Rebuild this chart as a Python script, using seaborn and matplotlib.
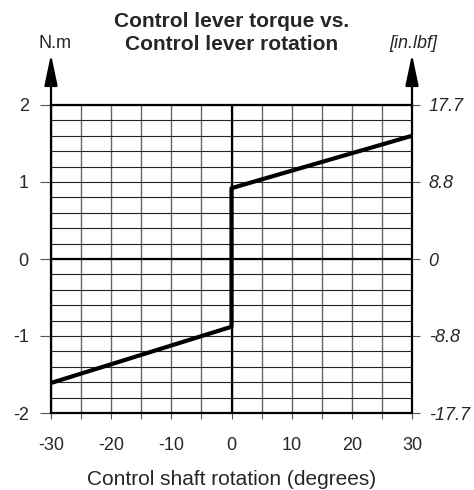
import matplotlib
matplotlib.use('Agg')
import numpy as np
import pandas as pd
import seaborn as sns
from matplotlib import pyplot as plt

# shaft rotation (degrees) and lever torque (N.m)
rotation = [-30, 0, 0, 30]
torque = [-1.61, -0.88, 0.92, 1.6]
x_ticks = [-30, -20, -10, 0, 10, 20, 30]
y_ticks = [-2, -1, 0, 1, 2]
right_labels = ['-17.7', '-8.8', '0', '8.8', '17.7']


def main():
    sns.set_style('white')
    plt.rcParams['font.family'] = ['Liberation Sans', 'DejaVu Sans']
    plt.rcParams['axes.unicode_minus'] = False

    df = pd.DataFrame({'rotation': rotation, 'torque': torque})

    fig = plt.figure(figsize=(4.74, 4.9), dpi=100)
    ax = fig.add_axes([51 / 474, 1 - 413 / 490, 361 / 474, 308 / 490])

    # grid
    for gx in np.arange(-30, 31, 5):
        ax.axvline(gx, color='#666666', lw=1.0, zorder=1)
    for gy in np.arange(-2, 2.01, 0.2):
        ax.axhline(gy, color='#222222', lw=0.8, zorder=1)
    ax.axhline(0, color='black', lw=1.6, zorder=2)
    ax.axvline(0, color='black', lw=1.6, zorder=2)

    sns.lineplot(data=df, x='rotation', y='torque', sort=False, estimator=None,
                 color='black', lw=3, ax=ax, zorder=5)

    ax.set_xlim(-30, 30)
    ax.set_ylim(-2, 2)
    ax.set_xticks(x_ticks)
    ax.set_yticks(y_ticks)
    ax.set_xticks(np.arange(-30, 31, 5), minor=True)
    ax.tick_params(axis='y', which='major', labelsize=13, length=8, width=0.8,
                   direction='out', color='#555555', pad=8, left=True)
    ax.tick_params(axis='x', which='both', labelsize=13, length=4, width=0.8,
                   direction='out', color='#555555', pad=13, bottom=True)
    ax.set_xlabel('Control shaft rotation (degrees)', fontsize=15, labelpad=12)
    ax.set_ylabel('')
    for s in ax.spines.values():
        s.set_color('black')
        s.set_linewidth(1.6)

    ax2 = ax.twinx()
    ax2.set_ylim(-2, 2)
    ax2.set_yticks(y_ticks)
    ax2.set_yticklabels(right_labels, fontstyle='italic')
    ax2.tick_params(axis='y', right=True, labelsize=13, length=6, width=0.8,
                    color='#555555', pad=6)
    for s in ax2.spines.values():
        s.set_visible(False)

    # axis arrows
    for xa in (0, 1):
        ax.annotate('', xy=(xa, 1.165), xytext=(xa, 0.99), xycoords='axes fraction',
                    arrowprops=dict(arrowstyle='-|>,head_length=0.95,head_width=0.2',
                                    mutation_scale=20, color='black', lw=1.6,
                                    shrinkA=0, shrinkB=0),
                    annotation_clip=False)

    fig.text(55 / 474, 1 - 43 / 490, 'N.m', fontsize=13, ha='center', va='center')
    fig.text(413 / 474, 1 - 43 / 490, '[in.lbf]', fontsize=13, ha='center',
             va='center', fontstyle='italic')
    fig.text(232 / 474, 1 - 33 / 490, 'Control lever torque vs.\nControl lever rotation',
             fontsize=15, fontweight='bold', ha='center', va='center', linespacing=1.3)

    fig.savefig('out.png', dpi=100)


if __name__ == '__main__':
    main()
